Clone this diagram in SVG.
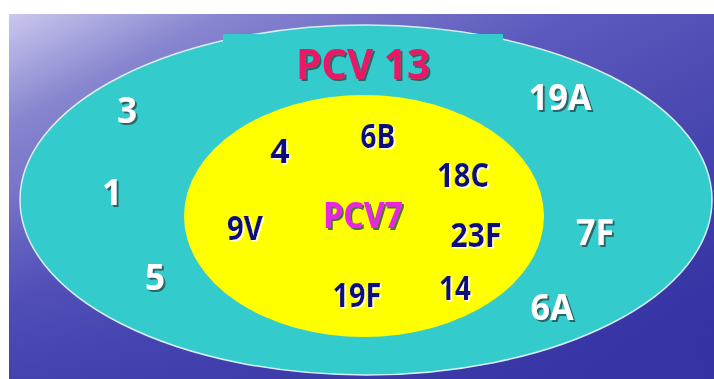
<svg xmlns="http://www.w3.org/2000/svg" width="714" height="379" viewBox="0 0 714 379">
<defs>
<linearGradient id="bg" x1="0" y1="0" x2="1" y2="1">
<stop offset="0" stop-color="#cac8ee"/>
<stop offset="0.15" stop-color="#8886cf"/>
<stop offset="0.4" stop-color="#5c5abd"/>
<stop offset="1" stop-color="#2c2a9c"/>
</linearGradient>
<linearGradient id="bg2" x1="0" y1="0" x2="0" y2="1">
<stop offset="0.5" stop-color="#3a38aa" stop-opacity="0"/>
<stop offset="1" stop-color="#3a38aa" stop-opacity="0.6"/>
</linearGradient>
<filter id="sdark" x="-20%" y="-20%" width="140%" height="140%">
<feDropShadow dx="2" dy="2" stdDeviation="0.6" flood-color="#2a4a50" flood-opacity="0.8"/>
</filter>
<filter id="slight" x="-20%" y="-20%" width="140%" height="140%">
<feDropShadow dx="1.5" dy="1.5" stdDeviation="0.5" flood-color="#ffffff" flood-opacity="0.9"/>
</filter>
</defs>
<style>
text{font-family:"Open Sans","DejaVu Sans",sans-serif;font-weight:bold;text-anchor:middle}
.w{fill:#ffffff;font-size:35px;filter:url(#sdark)}
.n{fill:#0c0c80;font-size:34px;filter:url(#slight)}
.t13{fill:#ec1466;font-size:41px;filter:url(#sdark)}
.t7{fill:#e626e2;font-size:36px;filter:url(#sdark)}
</style>
<rect x="0" y="0" width="714" height="379" fill="#ffffff"/>
<rect x="9" y="14" width="705" height="365" fill="url(#bg)"/>
<rect x="9" y="14" width="705" height="365" fill="url(#bg2)"/>
<g id="pcv13">
<ellipse cx="366" cy="200" rx="346" ry="175" fill="#33cbcb" stroke="#d8eef2" stroke-width="1.5"/>
<rect x="223" y="34" width="280" height="12" fill="#33cbcb"/>
<text class="t13" x="363" y="79" textLength="134" lengthAdjust="spacingAndGlyphs">PCV 13</text>
</g>
<g id="pcv7">
<ellipse cx="364" cy="216" rx="180" ry="121" fill="#ffff00"/>
<text class="t7" x="363" y="228" textLength="80" lengthAdjust="spacingAndGlyphs">PCV7</text>
</g>
<g id="s3"><text class="w" x="127" y="123">3</text></g>
<g id="s1"><text class="w" x="112" y="205">1</text></g>
<g id="s5"><text class="w" x="155" y="290">5</text></g>
<g id="s19A"><text class="w" x="560" y="110" textLength="63" lengthAdjust="spacingAndGlyphs">19A</text></g>
<g id="s7F"><text class="w" x="595" y="245" textLength="38" lengthAdjust="spacingAndGlyphs">7F</text></g>
<g id="s6A"><text class="w" x="552" y="320" textLength="43" lengthAdjust="spacingAndGlyphs">6A</text></g>
<g id="s4"><text class="n" x="280" y="163">4</text></g>
<g id="s6B"><text class="n" x="378" y="148" textLength="35" lengthAdjust="spacingAndGlyphs">6B</text></g>
<g id="s18C"><text class="n" x="463" y="187" textLength="52" lengthAdjust="spacingAndGlyphs">18C</text></g>
<g id="s9V"><text class="n" x="245" y="240" textLength="36" lengthAdjust="spacingAndGlyphs">9V</text></g>
<g id="s23F"><text class="n" x="476" y="247" textLength="51" lengthAdjust="spacingAndGlyphs">23F</text></g>
<g id="s19F"><text class="n" x="357" y="307" textLength="49" lengthAdjust="spacingAndGlyphs">19F</text></g>
<g id="s14"><text class="n" x="455" y="300" textLength="32" lengthAdjust="spacingAndGlyphs">14</text></g>
</svg>
